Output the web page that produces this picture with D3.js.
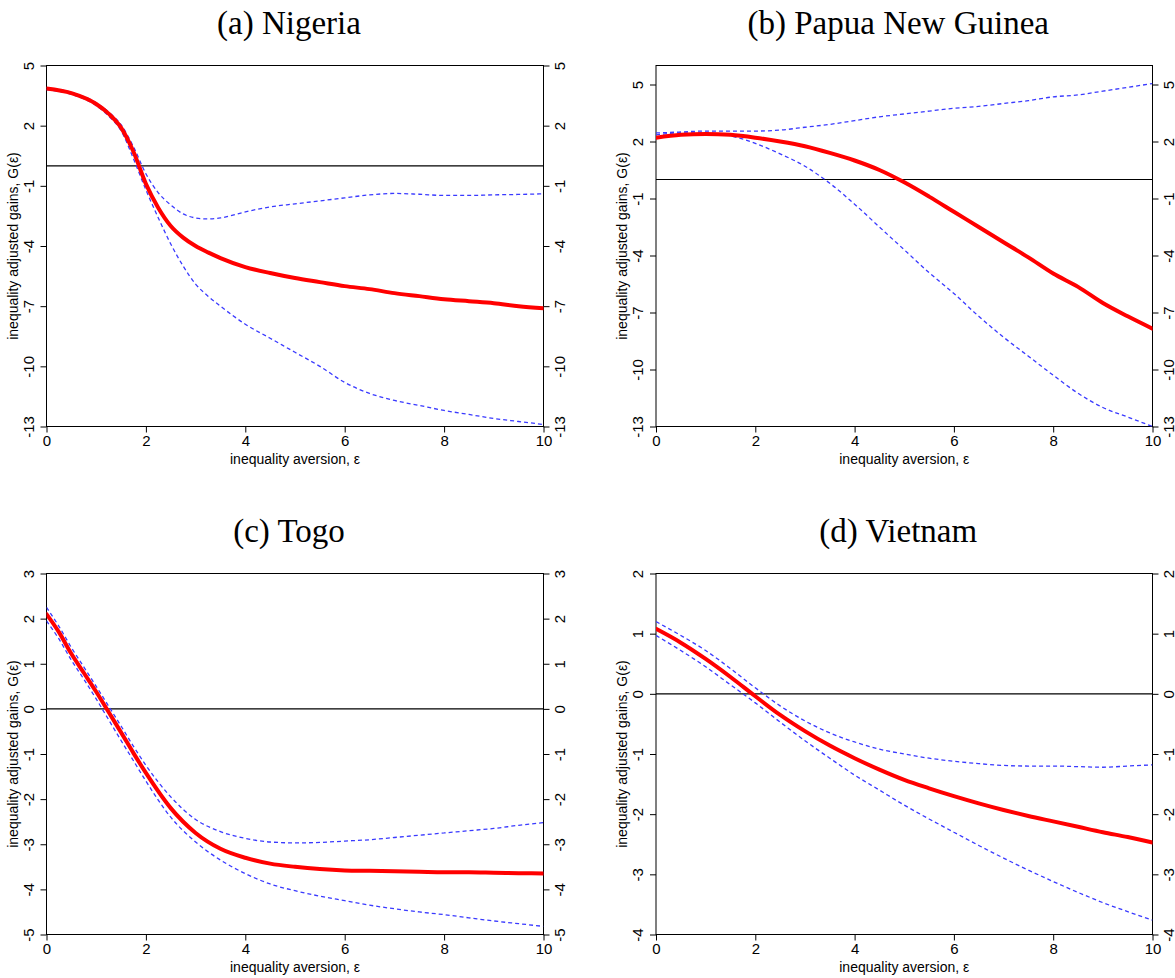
<!DOCTYPE html>
<html>
<head>
<meta charset="utf-8">
<script src="https://cdn.jsdelivr.net/npm/d3@7"></script>
<style>
  html, body { margin: 0; padding: 0; background: #fff; }
  svg { display: block; }
</style>
</head>
<body>
<svg id="chart" width="1175" height="978"></svg>
<script>
// ---------------- DATA ----------------
const titles = ["(a) Nigeria", "(b) Papua New Guinea", "(c) Togo", "(d) Vietnam"];
const xTicks = [0, 2, 4, 6, 8, 10];

// Nigeria
const epsNigeria = [0, 0.5, 1.0, 1.25, 1.5, 1.75, 2.0, 2.25, 2.5, 2.75, 3.0, 3.25, 3.5, 4.0, 4.5, 5.0, 5.5, 6.0, 6.5, 7.0, 7.5, 8.0, 8.5, 9.0, 9.5, 10];
const gNigeria     = [3.85, 3.62, 3.08, 2.6, 1.9, 0.7, -0.9, -2.1, -3.0, -3.58, -4.0, -4.32, -4.6, -5.05, -5.35, -5.6, -5.8, -6.0, -6.15, -6.35, -6.5, -6.65, -6.75, -6.85, -7.0, -7.1];
const upperNigeria = [3.9, 3.66, 3.14, 2.68, 2.05, 0.95, -0.4, -1.35, -1.95, -2.4, -2.6, -2.65, -2.6, -2.3, -2.05, -1.9, -1.75, -1.6, -1.45, -1.38, -1.42, -1.48, -1.48, -1.45, -1.43, -1.4];
const lowerNigeria = [3.8, 3.56, 3.0, 2.48, 1.75, 0.35, -1.2, -2.6, -3.9, -5.0, -5.9, -6.5, -7.0, -7.9, -8.6, -9.3, -10.0, -10.8, -11.35, -11.7, -11.95, -12.2, -12.4, -12.6, -12.75, -12.9];
const yTicksNigeria = [5, 2, -1, -4, -7, -10, -13];

// Papua New Guinea
const epsPNG = [0, 0.5, 1.0, 1.5, 2.0, 2.5, 3.0, 3.5, 4.0, 4.5, 5.0, 5.5, 6.0, 6.5, 7.0, 7.5, 8.0, 8.5, 9.0, 9.5, 10];
const gPNG     = [2.2, 2.35, 2.4, 2.35, 2.2, 2.0, 1.75, 1.4, 1.0, 0.5, -0.15, -0.9, -1.7, -2.5, -3.3, -4.1, -4.95, -5.65, -6.5, -7.2, -7.85];
const upperPNG = [2.45, 2.5, 2.55, 2.55, 2.55, 2.6, 2.75, 2.9, 3.1, 3.3, 3.45, 3.6, 3.75, 3.85, 4.0, 4.15, 4.35, 4.45, 4.65, 4.85, 5.05];
const lowerPNG = [2.35, 2.45, 2.45, 2.3, 1.9, 1.35, 0.7, -0.2, -1.3, -2.5, -3.7, -4.9, -6.0, -7.2, -8.3, -9.3, -10.3, -11.25, -12.0, -12.5, -13.0];
const yTicksPNG = [5, 2, -1, -4, -7, -10, -13];

// Togo
const epsTogo = [0, 0.25, 0.5, 0.75, 1.0, 1.25, 1.5, 1.75, 2.0, 2.5, 3.0, 3.5, 4.0, 4.5, 5.0, 5.5, 6.0, 6.5, 7.0, 7.5, 8.0, 8.5, 9.0, 9.5, 10];
const gTogo     = [2.1, 1.7, 1.22, 0.8, 0.38, -0.07, -0.52, -0.98, -1.42, -2.2, -2.75, -3.1, -3.3, -3.43, -3.5, -3.55, -3.58, -3.59, -3.6, -3.61, -3.62, -3.62, -3.63, -3.64, -3.65];
const upperTogo = [2.25, 1.83, 1.36, 0.93, 0.5, 0.06, -0.38, -0.83, -1.25, -1.95, -2.45, -2.72, -2.87, -2.95, -2.97, -2.96, -2.93, -2.9, -2.85, -2.8, -2.75, -2.7, -2.65, -2.58, -2.52];
const lowerTogo = [1.95, 1.55, 1.08, 0.66, 0.22, -0.24, -0.7, -1.15, -1.6, -2.4, -2.95, -3.35, -3.65, -3.88, -4.03, -4.15, -4.25, -4.35, -4.43, -4.5, -4.56, -4.63, -4.7, -4.76, -4.82];
const yTicksTogo = [3, 2, 1, 0, -1, -2, -3, -4, -5];

// Vietnam
const epsVietnam = [0, 0.5, 1.0, 1.5, 2.0, 2.5, 3.0, 3.5, 4.0, 4.5, 5.0, 5.5, 6.0, 6.5, 7.0, 7.5, 8.0, 8.5, 9.0, 9.5, 10];
const gVietnam     = [1.08, 0.85, 0.58, 0.28, -0.04, -0.35, -0.62, -0.86, -1.07, -1.26, -1.43, -1.57, -1.7, -1.82, -1.93, -2.03, -2.12, -2.21, -2.3, -2.38, -2.47];
const upperVietnam = [1.2, 0.97, 0.72, 0.42, 0.1, -0.2, -0.45, -0.65, -0.8, -0.92, -1.0, -1.07, -1.12, -1.16, -1.19, -1.2, -1.2, -1.21, -1.22, -1.2, -1.18];
const lowerVietnam = [0.97, 0.72, 0.45, 0.15, -0.15, -0.47, -0.78, -1.07, -1.35, -1.6, -1.85, -2.08, -2.3, -2.52, -2.73, -2.93, -3.12, -3.3, -3.47, -3.62, -3.76];
const yTicksVietnam = [2, 1, 0, -1, -2, -3, -4];

// ---------------- DRAW ----------------
const svg = d3.select("#chart");

const panels = [
  { title: titles[0], eps: epsNigeria, g: gNigeria, up: upperNigeria, lo: lowerNigeria, ticks: yTicksNigeria, dom: [-13, 5],
    x0: 46.5, x1: 543.5, y0: 65.5, y1: 426.5 },
  { title: titles[1], eps: epsPNG, g: gPNG, up: upperPNG, lo: lowerPNG, ticks: yTicksPNG, dom: [-13, 6],
    x0: 656, x1: 1152.5, y0: 65.5, y1: 426.5 },
  { title: titles[2], eps: epsTogo, g: gTogo, up: upperTogo, lo: lowerTogo, ticks: yTicksTogo, dom: [-5, 3],
    x0: 46.5, x1: 543.5, y0: 573.5, y1: 934.5 },
  { title: titles[3], eps: epsVietnam, g: gVietnam, up: upperVietnam, lo: lowerVietnam, ticks: yTicksVietnam, dom: [-4, 2],
    x0: 656, x1: 1152.5, y0: 573.5, y1: 934.5 }
];

const sans = "'Liberation Sans', Arial, Helvetica, sans-serif";
const serif = "'Liberation Serif', 'DejaVu Serif', serif";
const fmt = d => String(d); // plain hyphen-minus like the reference

panels.forEach(p => {
  const x = d3.scaleLinear().domain([0, 10]).range([p.x0, p.x1]);
  const y = d3.scaleLinear().domain(p.dom).range([p.y1, p.y0]);
  const g = svg.append("g");

  // title
  g.append("text")
    .attr("x", (p.x0 + p.x1) / 2 - 6)
    .attr("y", p.y0 - 32)
    .attr("text-anchor", "middle")
    .attr("font-family", serif)
    .attr("font-size", 33)
    .attr("fill", "#000")
    .text(p.title);

  // x axis
  const xAxis = g.append("g").attr("transform", `translate(0,${p.y1})`)
    .call(d3.axisBottom(x).tickValues(xTicks).tickFormat(fmt).tickSize(6).tickPadding(3).tickSizeOuter(0));
  xAxis.select(".domain").remove();
  xAxis.selectAll("line").attr("stroke", "#000").attr("stroke-width", 1);
  xAxis.selectAll("text").attr("font-family", sans).attr("font-size", 15).attr("fill", "#000");

  // left y axis
  const yAxisL = g.append("g").attr("transform", `translate(${p.x0},0)`)
    .call(d3.axisLeft(y).tickValues(p.ticks).tickFormat(fmt).tickSize(6).tickSizeOuter(0));
  yAxisL.select(".domain").remove();
  yAxisL.selectAll("line").attr("stroke", "#000");
  yAxisL.selectAll("text")
    .attr("font-family", sans).attr("font-size", 15).attr("fill", "#000")
    .attr("x", null).attr("dy", null)
    .attr("text-anchor", "middle")
    .attr("transform", "translate(-13,0) rotate(-90)");

  // right y axis
  const yAxisR = g.append("g").attr("transform", `translate(${p.x1},0)`)
    .call(d3.axisRight(y).tickValues(p.ticks).tickFormat(fmt).tickSize(6).tickSizeOuter(0));
  yAxisR.select(".domain").remove();
  yAxisR.selectAll("line").attr("stroke", "#000");
  yAxisR.selectAll("text")
    .attr("font-family", sans).attr("font-size", 15).attr("fill", "#000")
    .attr("x", null).attr("dy", null)
    .attr("text-anchor", "middle")
    .attr("transform", "translate(21,0) rotate(-90)");

  // box
  g.append("rect")
    .attr("x", p.x0).attr("y", p.y0)
    .attr("width", p.x1 - p.x0).attr("height", p.y1 - p.y0)
    .attr("fill", "none").attr("stroke", "#000").attr("stroke-width", 1);

  // zero line
  g.append("line")
    .attr("x1", p.x0).attr("x2", p.x1)
    .attr("y1", y(0)).attr("y2", y(0))
    .attr("stroke", "#000").attr("stroke-width", 1.2);

  // axis titles
  g.append("text")
    .attr("x", (p.x0 + p.x1) / 2)
    .attr("y", p.y1 + 37)
    .attr("text-anchor", "middle")
    .attr("font-family", sans).attr("font-size", 14).attr("fill", "#000")
    .text("inequality aversion, ε");

  g.append("text")
    .attr("transform", `translate(${p.x0 - 29},${(p.y0 + p.y1) / 2}) rotate(-90)`)
    .attr("text-anchor", "middle")
    .attr("font-family", sans).attr("font-size", 14).attr("fill", "#000")
    .text("inequality adjusted gains, G(ε)");

  // lines
  const line = d3.line().x((d, i) => x(p.eps[i])).y(d => y(d)).curve(d3.curveMonotoneX);
  const clipId = "clip" + p.title.replace(/[^a-z]/gi, "");
  svg.append("clipPath").attr("id", clipId)
    .append("rect").attr("x", p.x0).attr("y", p.y0 - 2).attr("width", p.x1 - p.x0).attr("height", p.y1 - p.y0 + 4);
  const lg = g.append("g").attr("clip-path", `url(#${clipId})`);

  [p.up, p.lo].forEach(s => {
    lg.append("path").attr("d", line(s))
      .attr("fill", "none").attr("stroke", "#3a3aff").attr("stroke-width", 1.3)
      .attr("stroke-dasharray", "4,3");
  });
  lg.append("path").attr("d", line(p.g))
    .attr("fill", "none").attr("stroke", "#ff0000").attr("stroke-width", 4)
    .attr("stroke-linejoin", "round").attr("stroke-linecap", "round");
});
</script>
</body>
</html>
